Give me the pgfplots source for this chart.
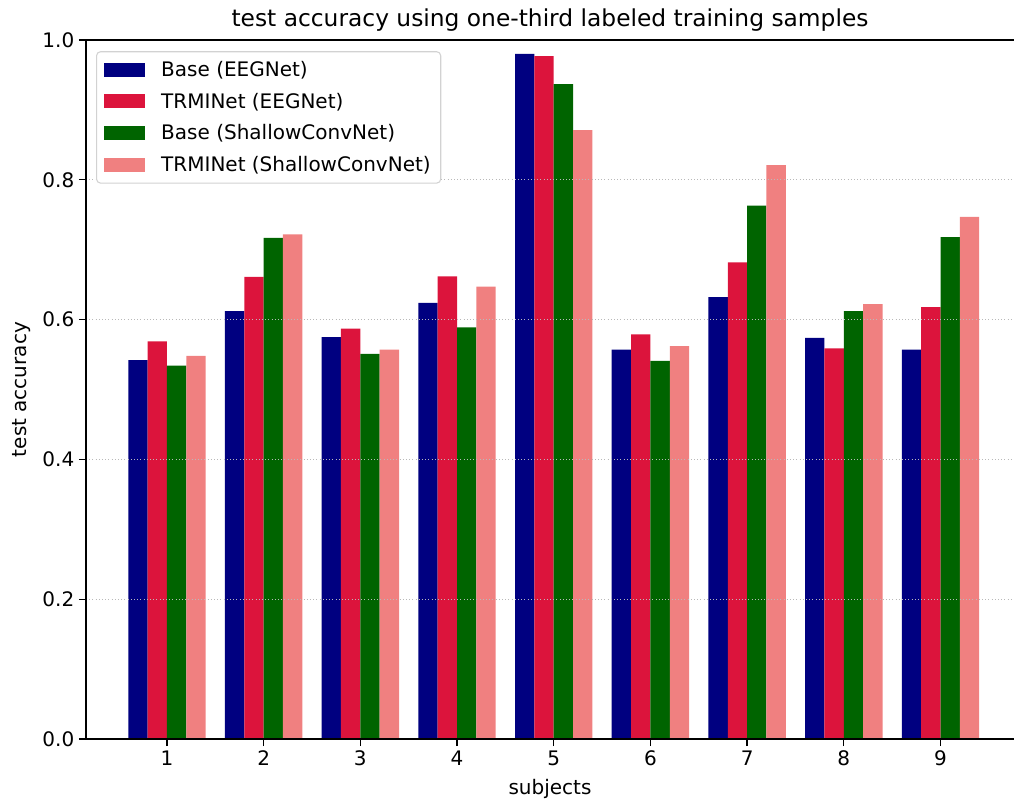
\documentclass[border=0pt]{standalone}
\usepackage{pgfplots}
\pgfplotsset{compat=1.18}
\usepackage{fontspec}
\setmainfont{DejaVu Sans}
\definecolor{cnavy}{RGB}{0,0,128}
\definecolor{ccrimson}{RGB}{220,20,60}
\definecolor{cdkgreen}{RGB}{0,100,0}
\definecolor{ccoral}{RGB}{240,128,128}
\begin{document}
\begin{tikzpicture}
\begin{axis}[
  scale only axis,
  width=696pt, height=524.25pt,
  xmin=0.163, xmax=9.76,
  ymin=0, ymax=1,
  axis x line*=bottom, axis y line*=left,
  axis line style={line width=1pt},
  axis on top,
  xtick={1,2,3,4,5,6,7,8,9},
  ytick={0,0.2,0.4,0.6,0.8,1.0},
  yticklabel style={/pgf/number format/.cd,fixed,fixed zerofill,precision=1},
  /pgf/number format/assume math mode=true,
  tick align=outside,
  major tick length=5.25pt,
  tick style={line width=1pt, black},
  ticklabel style={font=\fontsize{15}{18}\selectfont},
  ymajorgrids,
  major grid style={dotted, line width=0.9pt, gray!55},
  title={test accuracy using one-third labeled training samples},
  title style={font=\fontsize{17.5}{21}\selectfont, at={(axis description cs:0.5,1)}, anchor=south, inner sep=0pt, yshift=0.5pt},
  xlabel={subjects},
  xlabel style={font=\fontsize{15}{18}\selectfont, at={(axis description cs:0.5,-0.0787)}, anchor=base},
  ylabel={test accuracy},
  ylabel style={font=\fontsize{15}{18}\selectfont, at={(axis description cs:-0.0636,0.5)}, anchor=base, rotate=0},
  legend cell align=left,
  legend style={at={(axis description cs:0.0108,0.984)}, anchor=north west,
    draw=gray!35, line width=0.8pt, rounded corners=3pt, fill=white,
    font=\fontsize{15}{18}\selectfont, row sep=7pt, inner xsep=5.5pt, inner ysep=5pt},
  legend image code/.code={\fill[#1, sharp corners] (0pt,-5.25pt) rectangle (30.75pt,5.25pt); \path (41pt,0pt);},
  after end axis/.code={\draw[solid, black, line width=1pt] (rel axis cs:0,1) -- (rel axis cs:1,1);},
]
\addplot[ybar, bar width=0.2, bar shift=-0.3, fill=cnavy, draw=none] coordinates {
 (1,0.542) (2,0.612) (3,0.575) (4,0.624) (5,0.980) (6,0.557) (7,0.632) (8,0.574) (9,0.557)};
\addlegendentry{Base (EEGNet)}
\addplot[ybar, bar width=0.2, bar shift=-0.1, fill=ccrimson, draw=none] coordinates {
 (1,0.569) (2,0.661) (3,0.587) (4,0.662) (5,0.977) (6,0.579) (7,0.682) (8,0.559) (9,0.618)};
\addlegendentry{TRMINet (EEGNet)}
\addplot[ybar, bar width=0.2, bar shift=0.1, fill=cdkgreen, draw=none] coordinates {
 (1,0.534) (2,0.717) (3,0.551) (4,0.589) (5,0.937) (6,0.541) (7,0.763) (8,0.612) (9,0.718)};
\addlegendentry{Base (ShallowConvNet)}
\addplot[ybar, bar width=0.2, bar shift=0.3, fill=ccoral, draw=none] coordinates {
 (1,0.548) (2,0.722) (3,0.557) (4,0.647) (5,0.871) (6,0.562) (7,0.821) (8,0.622) (9,0.747)};
\addlegendentry{TRMINet (ShallowConvNet)}
\coordinate (SW) at (rel axis cs:0,0);
\coordinate (NE) at (rel axis cs:1,1);
\end{axis}
\draw[solid, black, line width=1pt] (SW |- NE) -- (NE);
\pgfresetboundingbox
\path ([shift={(-64.5pt,-45.75pt)}]SW) rectangle ([shift={(0pt,30pt)}]NE);
\end{tikzpicture}
\end{document}
